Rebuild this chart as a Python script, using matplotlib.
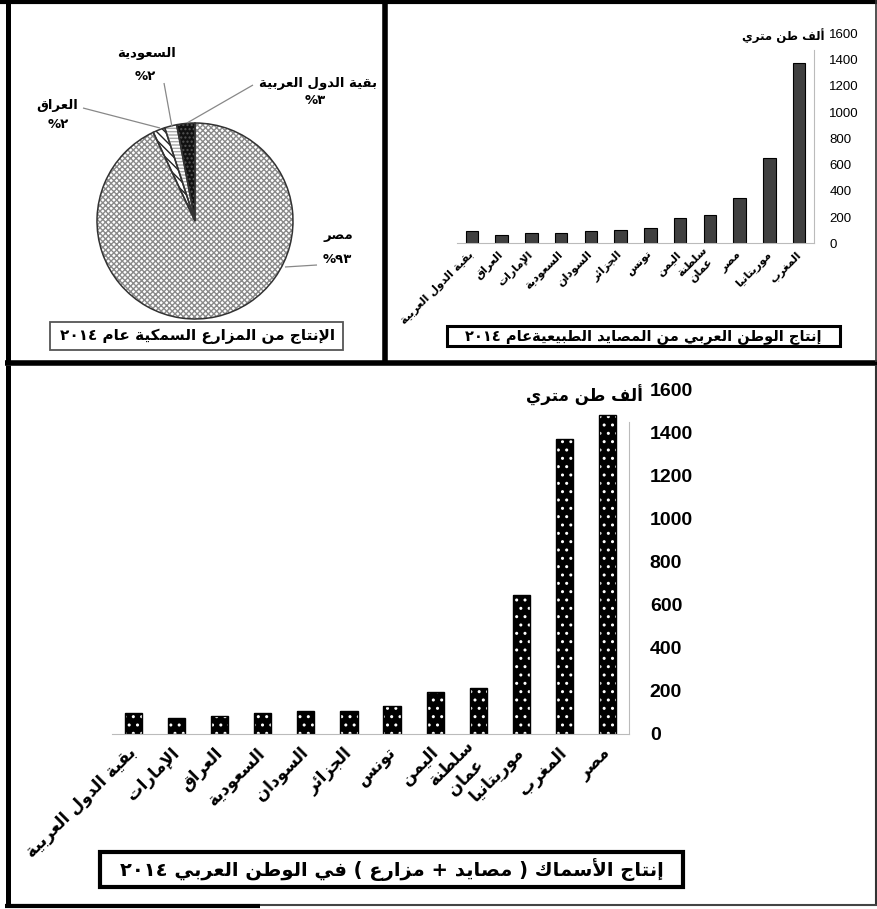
import matplotlib
matplotlib.use('Agg')
import matplotlib.pyplot as plt
from matplotlib.patches import Rectangle
from matplotlib.lines import Line2D
from matplotlib import font_manager

# ---------------- data ----------------
pie_labels = ['بقية الدول العربية', 'السعودية', 'العراق', 'مصر']
pie_values = [3, 2, 2, 93]

natural_countries = ['بقية الدول العربية', 'العراق', 'الإمارات', 'السعودية', 'السودان', 'الجزائر',
                     'تونس', 'اليمن', 'سلطنة\nعمان', 'مصر', 'موريتانيا', 'المغرب']
natural_values = [94, 63, 76, 76, 94, 101, 119, 195, 216, 348, 652, 1371]

total_countries = ['بقية الدول العربية', 'الإمارات', 'العراق', 'السعودية', 'السودان', 'الجزائر',
                   'تونس', 'اليمن', 'سلطنة\nعمان', 'موريتانيا', 'المغرب', 'مصر']
total_values = [94, 71, 83, 94, 105, 105, 128, 194, 210, 644, 1372, 1481]

yticks = [0, 200, 400, 600, 800, 1000, 1200, 1400, 1600]
unit_label = 'ألف طن متري'
pie_title = 'الإنتاج من المزارع السمكية عام ٢٠١٤'
natural_title = 'إنتاج الوطن العربي من المصايد الطبيعيةعام ٢٠١٤'
total_title = 'إنتاج الأسماك ( مصايد + مزارع ) في الوطن العربي ٢٠١٤'

# ---------------- simple Arabic shaping ----------------
_DUAL = {'\u0626': 0xFE89, '\u0628': 0xFE8F, '\u062A': 0xFE95, '\u062B': 0xFE99, '\u062C': 0xFE9D,
         '\u062D': 0xFEA1, '\u062E': 0xFEA5, '\u0633': 0xFEB1, '\u0634': 0xFEB5, '\u0635': 0xFEB9,
         '\u0636': 0xFEBD, '\u0637': 0xFEC1, '\u0638': 0xFEC5, '\u0639': 0xFEC9, '\u063A': 0xFECD,
         '\u0641': 0xFED1, '\u0642': 0xFED5, '\u0643': 0xFED9, '\u0644': 0xFEDD, '\u0645': 0xFEE1,
         '\u0646': 0xFEE5, '\u0647': 0xFEE9, '\u064A': 0xFEF1}
_RIGHT = {'\u0622': 0xFE81, '\u0623': 0xFE83, '\u0624': 0xFE85, '\u0625': 0xFE87, '\u0627': 0xFE8D,
          '\u0629': 0xFE93, '\u062F': 0xFEA9, '\u0630': 0xFEAB, '\u0631': 0xFEAD, '\u0632': 0xFEAF,
          '\u0648': 0xFEED, '\u0649': 0xFEEF}
FORMS = {}
for c, b in _DUAL.items():
    FORMS[c] = (chr(b), chr(b + 1), chr(b + 2), chr(b + 3))
for c, b in _RIGHT.items():
    FORMS[c] = (chr(b), chr(b + 1), None, None)
FORMS['\u0621'] = ('\uFE80', None, None, None)
LAM_ALEF = {'\u0622': ('\uFEF5', '\uFEF6', None, None), '\u0623': ('\uFEF7', '\uFEF8', None, None),
            '\u0625': ('\uFEF9', '\uFEFA', None, None), '\u0627': ('\uFEFB', '\uFEFC', None, None)}
DIGITS = set('0123456789٠١٢٣٤٥٦٧٨٩')


def _shape_line(s):
    toks = []
    i = 0
    while i < len(s):
        c = s[i]
        if c == '\u0644' and i + 1 < len(s) and s[i + 1] in LAM_ALEF:
            toks.append((c, LAM_ALEF[s[i + 1]]))
            i += 2
        else:
            toks.append((c, FORMS.get(c)))
            i += 1
    out = []
    for j, (c, f) in enumerate(toks):
        if f is None:
            out.append(c)
            continue
        pj = toks[j - 1][1] if j > 0 else None
        nj = toks[j + 1][1] if j + 1 < len(toks) else None
        jp = pj is not None and pj[2] is not None and f[1] is not None
        jn = f[2] is not None and nj is not None and nj[1] is not None
        if jp and jn:
            out.append(f[3])
        elif jp:
            out.append(f[1])
        elif jn:
            out.append(f[2])
        else:
            out.append(f[0])
    vis = out[::-1]
    # keep digit runs left-to-right, mirror brackets
    res = []
    k = 0
    while k < len(vis):
        if vis[k] in DIGITS:
            m = k
            while m < len(vis) and vis[m] in DIGITS:
                m += 1
            res.extend(vis[k:m][::-1])
            k = m
        else:
            ch = vis[k]
            ch = {'(': ')', ')': '('}.get(ch, ch)
            res.append(ch)
            k += 1
    return ''.join(res)


def ar(s):
    return '\n'.join(_shape_line(l) for l in s.split('\n'))


def ar_digits(n):
    return ''.join('٠١٢٣٤٥٦٧٨٩'[int(d)] for d in str(n))


names = {f.name for f in font_manager.fontManager.ttflist}
NARROW = 'Liberation Sans Narrow' if 'Liberation Sans Narrow' in names else 'Liberation Sans'
AR = 'DejaVu Sans'

# ---------------- figure ----------------
W, H = 877, 909
fig = plt.figure(figsize=(W / 100, H / 100), dpi=100)
fig.patch.set_facecolor('white')


def fx(x):
    return x / W


def fy(y):
    return 1 - y / H


def axrect(l, t, r, b):
    return [fx(l), fy(b), (r - l) / W, (b - t) / H]


def fline(x0, y0, x1, y1, lw, color='black', z=10):
    fig.add_artist(Line2D([fx(x0), fx(x1)], [fy(y0), fy(y1)], lw=lw, color=color,
                          transform=fig.transFigure, zorder=z, solid_capstyle='butt'))


def fbox(l, t, r, b, lw, color='black'):
    fig.add_artist(Rectangle((fx(l), fy(b)), (r - l) / W, (b - t) / H, fill=False, lw=lw,
                             edgecolor=color, transform=fig.transFigure, zorder=10))


# ---- panel frames ----
fline(0, 1.5, 877, 1.5, 3.0)
fline(7.5, 0, 7.5, 362, 3.6)
fline(385, 0, 385, 362, 4.0)
fline(5, 362.5, 877, 362.5, 4.0)
fline(875.5, 0, 875.5, 362, 1.2, '#333333')
fline(7.5, 365, 7.5, 905, 3.6)
fline(875.5, 365, 875.5, 905, 1.5, '#333333')
fline(5, 904.5, 877, 904.5, 1.5, '#444444')
fline(5, 905.5, 260, 905.5, 3.0)

# ---------------- pie ----------------
ax1 = fig.add_axes(axrect(97, 123, 293, 319))
fills = [('#111111', '#555555', '....'), ('white', '#aaaaaa', '-----'),
         ('white', '#222222', '\\\\\\\\'), ('white', '#8a8a8a', 'xxxxxx')]
wedges, _ = ax1.pie(pie_values, startangle=90, counterclock=True, radius=1,
                    wedgeprops=dict(linewidth=0))
for w, (fc, hc, h) in zip(wedges, fills):
    w.set_facecolor(fc)
    w.set_edgecolor(hc)
    w.set_hatch(h)
    w.set_linewidth(0)
wedges2, _ = ax1.pie(pie_values, startangle=90, counterclock=True, radius=1,
                     wedgeprops=dict(fill=False, edgecolor='#333333', linewidth=1.1))
ax1.set_xlim(-1, 1)
ax1.set_ylim(-1, 1)
ax1.axis('off')

pie_label_pos = [(318, 83), (146, 53), (57, 105), (338, 236)]
pie_pct_pos = [(315, 101), (145, 77), (58, 124), (337, 259)]
leader = [((253, 85), (187, 123)), ((164, 83), (172, 127)), ((83, 108), (160, 128)),
          ((285, 267), (317, 265))]
for lab, v, (lx, ly), (px, py), ((x0, y0), (x1, y1)) in zip(pie_labels, pie_values, pie_label_pos,
                                                              pie_pct_pos, leader):
    fig.text(fx(lx), fy(ly), ar(lab), ha='center', va='center', fontsize=9.5,
             fontweight='bold', family=AR)
    fig.text(fx(px), fy(py), ar(ar_digits(v) + '%'), ha='center', va='center', fontsize=9.5,
             fontweight='bold', family=AR)
    fline(x0, y0, x1, y1, 0.9, '#888888', z=3)

fbox(50, 322, 343, 350, 1.3, '#555555')
fig.text(fx(197), fy(336), ar(pie_title), ha='center', va='center', fontsize=11,
         fontweight='bold', family=AR)

# ---------------- natural fisheries bar chart ----------------
ax2 = fig.add_axes(axrect(457, 33.3, 814, 243.3))
x2 = list(range(len(natural_values)))
ax2.bar(x2, natural_values, width=0.42, color='#404040', edgecolor='black', linewidth=0.8)
ax2.set_xlim(-0.5, len(natural_values) - 0.5)
ax2.set_ylim(0, 1600)
ax2.yaxis.tick_right()
ax2.set_yticks(yticks)
ax2.set_yticklabels([str(t) for t in yticks], fontsize=9.5, family='Liberation Sans')
ax2.tick_params(axis='y', length=0, pad=11)
ax2.set_xticks(x2)
ax2.set_xticklabels([ar(c) for c in natural_countries], rotation=45, ha='right',
                    rotation_mode='anchor', fontsize=8, fontweight='bold', family=AR,
                    va='center', multialignment='center')
ax2.tick_params(axis='x', length=0, pad=7)
for s in ('left', 'top'):
    ax2.spines[s].set_visible(False)
ax2.spines['bottom'].set_color('#bbbbbb')
ax2.spines['right'].set_color('#bbbbbb')
ax2.spines['right'].set_bounds(0, 1470)
ax2.set_facecolor('none')
fig.text(fx(825), fy(36), ar(unit_label), ha='right', va='center', fontsize=8.5,
         fontweight='bold', family=AR)

fbox(447, 326, 840, 346, 2.2)
fig.text(fx(643), fy(336), ar(natural_title), ha='center', va='center', fontsize=10.5,
         fontweight='bold', family=AR)

# ---------------- total production bar chart ----------------
ax3 = fig.add_axes(axrect(112, 389.5, 629, 733.5))
x3 = list(range(len(total_values)))
ax3.bar(x3, total_values, width=0.4, color='black', edgecolor='white', hatch='..', linewidth=0)
ax3.bar(x3, total_values, width=0.4, fill=False, edgecolor='black', linewidth=1.0)
ax3.set_xlim(-0.5, len(total_values) - 0.5)
ax3.set_ylim(0, 1600)
ax3.yaxis.tick_right()
ax3.set_yticks(yticks)
ax3.set_yticklabels([str(t) for t in yticks], fontsize=14, fontweight='bold', family=NARROW)
ax3.tick_params(axis='y', length=0, pad=15)
ax3.set_xticks(x3)
ax3.set_xticklabels([ar(c) for c in total_countries], rotation=45, ha='right',
                    rotation_mode='anchor', fontsize=12, fontweight='bold', family=AR,
                    va='center', multialignment='center')
ax3.tick_params(axis='x', length=0, pad=12)
for s in ('left', 'top'):
    ax3.spines[s].set_visible(False)
ax3.spines['bottom'].set_color('#bbbbbb')
ax3.spines['right'].set_color('#bbbbbb')
ax3.spines['right'].set_bounds(0, 1450)
ax3.set_facecolor('none')
fig.text(fx(643), fy(395), ar(unit_label), ha='right', va='center', fontsize=12,
         fontweight='bold', family=AR)

fbox(100, 852, 683, 887, 3.0)
fig.text(fx(392), fy(869.5), ar(total_title), ha='center', va='center', fontsize=14,
         fontweight='bold', family=AR)

fig.savefig('out.png', dpi=100, facecolor='white')
